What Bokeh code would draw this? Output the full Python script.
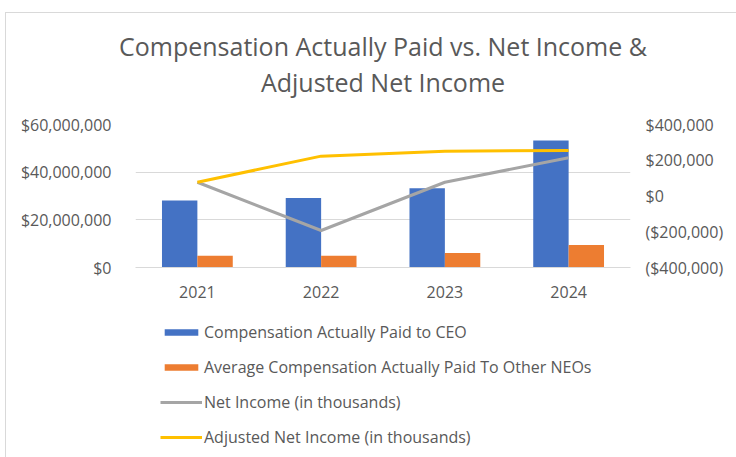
from bokeh.plotting import figure
from bokeh.layouts import column
from bokeh.models import (FactorRange, Range1d, LinearAxis, FixedTicker, NumeralTickFormatter,
                          CustomJSTickFormatter, Legend, LegendItem, Title, ColumnDataSource)
from bokeh.transform import dodge
from bokeh.embed import file_html
from bokeh.resources import INLINE

years = ["2021", "2022", "2023", "2024"]
ceo_cap = [28_100_000, 29_200_000, 33_300_000, 53_300_000]
neo_cap = [4_900_000, 4_900_000, 6_100_000, 9_400_000]
net_income = [77_000, -193_000, 77_000, 214_000]
adj_net_income = [77_000, 223_000, 251_000, 255_000]

left_ticks = [0, 20_000_000, 40_000_000, 60_000_000]
right_ticks = [-400_000, -200_000, 0, 200_000, 400_000]

title_lines = ["Compensation Actually Paid vs. Net Income &", "Adjusted Net Income"]
series_names = ["Compensation Actually Paid to CEO",
                "Average Compensation Actually Paid To Other NEOs",
                "Net Income (in thousands)",
                "Adjusted Net Income (in thousands)"]
series_colors = ["#4472C4", "#ED7D31", "#A5A5A5", "#FFC000"]

FONT = "Open Sans"
TXT = "#595959"
GRID = "#d9d9d9"

src = ColumnDataSource(dict(year=years, ceo=ceo_cap, neo=neo_cap, ni=net_income, adj=adj_net_income))

# ---- main chart ----
chart = figure(width=730, height=297, x_range=FactorRange(*years), y_range=Range1d(0, 60_000_000),
               output_backend="svg", toolbar_location=None, title=None,
               min_border_left=129, min_border_right=106, min_border_top=111, min_border_bottom=43)
chart.outline_line_color = None
chart.background_fill_color = "white"
chart.border_fill_color = "white"
chart.extra_y_ranges = {"income": Range1d(-400_000, 400_000)}

chart.vbar(x=dodge("year", -0.143, range=chart.x_range), top="ceo", width=0.286, source=src,
           fill_color=series_colors[0], line_color=None)
chart.vbar(x=dodge("year", 0.143, range=chart.x_range), top="neo", width=0.286, source=src,
           fill_color=series_colors[1], line_color=None)
chart.line(x="year", y="ni", source=src, y_range_name="income", line_color=series_colors[2], line_width=3)
chart.line(x="year", y="adj", source=src, y_range_name="income", line_color=series_colors[3], line_width=3)

ya = chart.yaxis[0]
ya.ticker = FixedTicker(ticks=left_ticks)
ya.formatter = NumeralTickFormatter(format="$0,0")
ya.major_label_standoff = 18

yr = LinearAxis(y_range_name="income", ticker=FixedTicker(ticks=right_ticks),
                formatter=CustomJSTickFormatter(code="""
                    const s = '$' + Math.abs(tick).toLocaleString('en-US');
                    return tick < 0 ? '(' + s + ')' : s;
                """))
yr.major_label_standoff = 9
chart.add_layout(yr, "right")

for ax in (ya, yr):
    ax.axis_line_color = None

xa = chart.xaxis[0]
xa.axis_line_color = GRID
xa.major_label_standoff = 12

for ax in (ya, yr, xa):
    ax.major_tick_line_color = None
    ax.minor_tick_line_color = None
    ax.major_label_text_font = FONT
    ax.major_label_text_font_size = "16px"
    ax.major_label_text_color = TXT

chart.xgrid.grid_line_color = None
chart.ygrid.grid_line_color = GRID
chart.ygrid.ticker = FixedTicker(ticks=left_ticks)

# spacer between plot area and title, then the two centred title lines
chart.add_layout(Title(text=" ", text_font_size="10px", standoff=13), "above")
for line in reversed(title_lines):
    chart.add_layout(Title(text=line, align="center", offset=-9, text_font=FONT, text_font_size="25px",
                           text_font_style="normal", text_color=TXT, standoff=0), "above")

# ---- legend strip ----
key = figure(width=730, height=147, x_range=Range1d(0, 1), y_range=Range1d(0, 1),
             output_backend="svg", toolbar_location=None, title=None,
             x_axis_location=None, y_axis_location=None,
             min_border_left=0, min_border_right=0, min_border_top=0, min_border_bottom=0)
key.outline_line_color = None
key.grid.grid_line_color = None
key.border_fill_color = "white"

# off-range placeholders that only supply the legend swatches
ghost = ColumnDataSource(dict(x=[-5, -4], y=[-5, -4]))
swatches = [
    key.vbar(x="x", top="y", width=0.1, source=ghost, fill_color=series_colors[0], line_color=None),
    key.vbar(x="x", top="y", width=0.1, source=ghost, fill_color=series_colors[1], line_color=None),
    key.line(x="x", y="y", source=ghost, line_color=series_colors[2], line_width=3),
    key.line(x="x", y="y", source=ghost, line_color=series_colors[3], line_width=3),
]
legend = Legend(items=[LegendItem(label=n, renderers=[r]) for n, r in zip(series_names, swatches)],
                location=(25, 9), orientation="vertical", glyph_width=42, glyph_height=8,
                label_height=20, spacing=13, label_standoff=2, padding=0, margin=0,
                border_line_color=None, background_fill_alpha=0,
                label_text_font=FONT, label_text_font_size="16px", label_text_color=TXT)
key.add_layout(legend, "center")

p = column(chart, key, spacing=0)
# chart-area border along the left and top edges
p.styles = {"margin-left": "5px", "margin-top": "12px",
            "border-left": "1px solid #d9d9d9", "border-top": "1px solid #d9d9d9"}

open("out.html", "w").write(file_html(p, INLINE))
